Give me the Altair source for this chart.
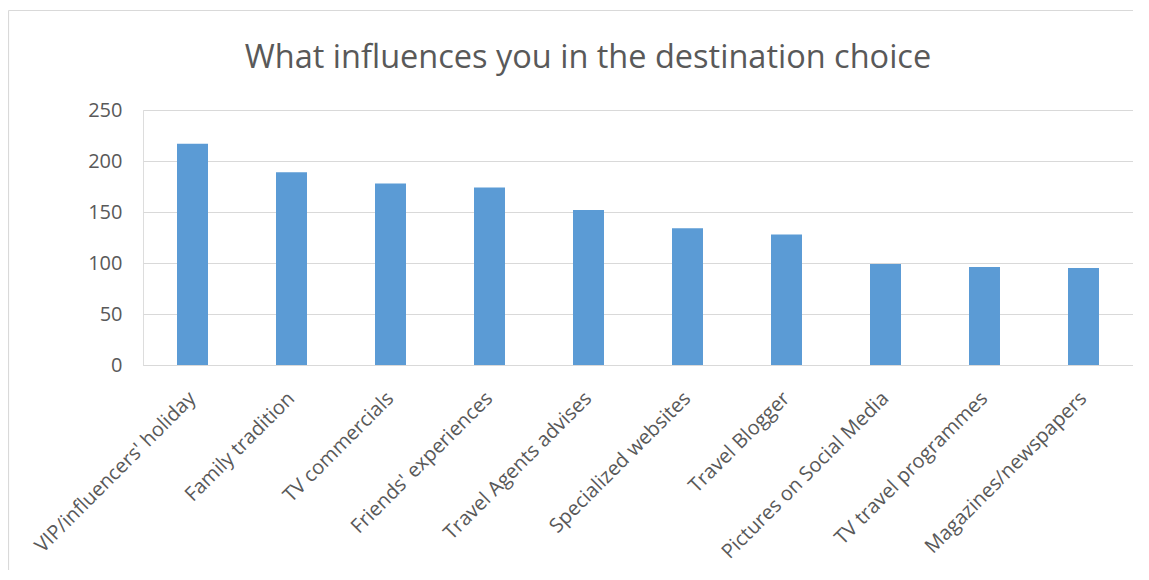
import altair as alt
import pandas as pd

categories = [
    "VIP/influencers' holiday",
    "Family tradition",
    "TV commercials",
    "Friends' experiences",
    "Travel Agents advises",
    "Specialized websites",
    "Travel Blogger",
    "Pictures on Social Media",
    "TV travel programmes",
    "Magazines/newspapers",
]
values = [217, 189, 178, 174, 152, 134, 128, 99, 96, 95]
y_ticks = [0, 50, 100, 150, 200, 250]
title_text = "What influences you in the destination choice"

df = pd.DataFrame({"category": categories, "value": values})

TEXT = "#595959"
GRID = "#d9d9d9"
FONT = "Open Sans"

one = pd.DataFrame({"k": [0]})

# chart-area border (top and left edges visible in the reference)
border_top = alt.Chart(one).mark_rule(stroke=GRID, strokeWidth=1.2, clip=False).encode(
    x=alt.value(-134.5), x2=alt.value(1040), y=alt.value(-99.5)
)
border_left = alt.Chart(one).mark_rule(stroke=GRID, strokeWidth=1.2, clip=False).encode(
    x=alt.value(-134.5), y=alt.value(-99.5), y2=alt.value(500)
)

title = alt.Chart(one).mark_text(
    text=title_text,
    font=FONT,
    fontSize=32.5,
    color=TEXT,
    align="center",
    baseline="alphabetic",
).encode(x=alt.value(445), y=alt.value(-42.5))

bars = alt.Chart(df).mark_bar(color="#5b9bd5").encode(
    x=alt.X(
        "category:N",
        sort=categories,
        title=None,
        scale=alt.Scale(paddingInner=0.687, paddingOuter=0.3435),
        axis=alt.Axis(
            labelAngle=-45,
            labelAlign="right",
            labelBaseline="middle",
            labelFont=FONT,
            labelFontSize=20,
            labelColor=TEXT,
            labelPadding=30,
            ticks=False,
            domainColor=GRID,
            domainWidth=1.2,
            grid=False,
            labelLimit=400,
        ),
    ),
    y=alt.Y(
        "value:Q",
        title=None,
        scale=alt.Scale(domain=[0, 250], nice=False),
        axis=alt.Axis(
            values=y_ticks,
            labelFont=FONT,
            labelFontSize=20,
            labelColor=TEXT,
            labelPadding=21,
            ticks=False,
            domain=False,
            gridColor=GRID,
            gridWidth=1.2,
        ),
    ),
)

chart = alt.layer(border_top, border_left, title, bars).properties(
    width=990,
    height=255,
    autosize=alt.AutoSizeParams(type="none"),
    padding={"left": 135, "top": 102, "right": 0, "bottom": 205},
).configure_view(stroke=None).configure(background="white")

chart.save("out.html", embed_options={"renderer": "svg", "actions": False})
